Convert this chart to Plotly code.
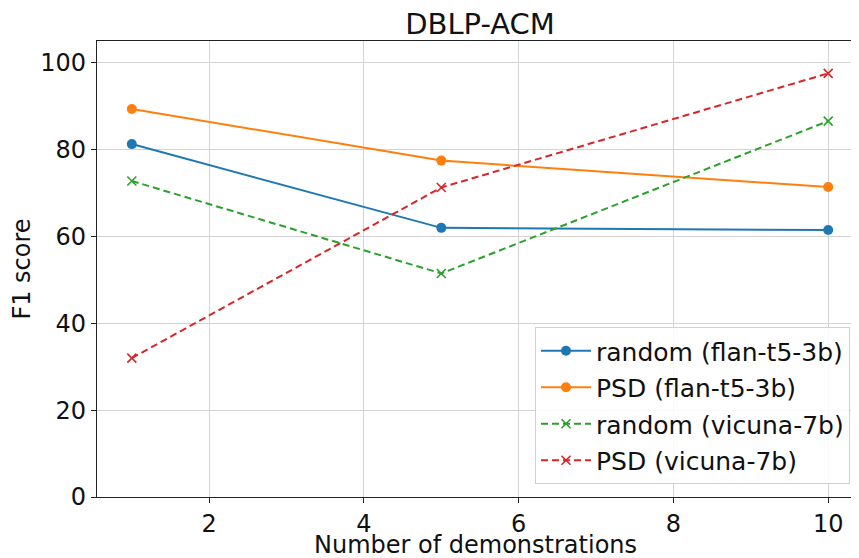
import plotly.graph_objects as go

x_vals = [1, 5, 10]
random_flan = [81.3, 62.0, 61.5]
psd_flan = [89.4, 77.5, 71.4]
random_vicuna = [72.8, 51.5, 86.6]
psd_vicuna = [32.0, 71.3, 97.6]

names = ["random (flan-t5-3b)", "PSD (flan-t5-3b)", "random (vicuna-7b)", "PSD (vicuna-7b)"]
colors = ["#1f77b4", "#ff7f0e", "#2ca02c", "#d62728"]
x_title = "Number of demonstrations"

font_family = "DejaVu Sans"
fig = go.Figure()
series = [random_flan, psd_flan, random_vicuna, psd_vicuna]
for i, (ys, name, c) in enumerate(zip(series, names, colors)):
    dashed = i >= 2
    fig.add_trace(go.Scatter(
        x=x_vals, y=ys, name=name, mode="lines+markers",
        legendgroup=f"g{i}",
        line=dict(color=c, width=2, dash="7px,4px" if dashed else "solid"),
        marker=dict(color=c, size=10 if not dashed else 9,
                    symbol="x-thin" if dashed else "circle",
                    line=dict(color=c, width=1.6 if dashed else 0)),
    ))

axis_common = dict(
    showline=True, linecolor="#222", linewidth=1.2, mirror=True,
    showgrid=True, gridcolor="#d3d3d3", gridwidth=1,
    ticks="outside", ticklen=5, tickcolor="#222",
    tickfont=dict(size=24, color="#111", family=font_family),
    zeroline=False, automargin=False,
)

# the page body adds an 8px offset; margins compensate so the plot sits where the reference has it
fig.update_layout(
    width=859, height=558,
    margin=dict(l=89, r=4, t=33, b=69),
    paper_bgcolor="white", plot_bgcolor="white",
    font=dict(family=font_family, color="#111"),
    title=dict(text="DBLP-ACM", x=472 / 859, xanchor="center",
               y=1 - 16 / 558, yanchor="middle",
               font=dict(size=29, family=font_family, color="#111")),
    xaxis=dict(range=[0.55, 10.45], tickvals=[2, 4, 6, 8, 10], **axis_common),
    yaxis=dict(range=[0, 105.05], tickvals=[0, 20, 40, 60, 80, 100],
               title=dict(text="F1 score", standoff=10,
                          font=dict(size=24, family=font_family)),
               **axis_common),
    legend=dict(x=(850 - 97) / 766, xanchor="right",
                y=(497 - 484) / 456, yanchor="bottom",
                bgcolor="rgba(255,255,255,0.85)", bordercolor="#d0d0d0",
                borderwidth=1, tracegroupgap=1,
                font=dict(size=25, family=font_family, color="#111"),
                itemwidth=50),
    showlegend=True,
    annotations=[dict(text=x_title, xref="paper", yref="paper",
                      x=0.4935, y=-48 / 456, xanchor="center", yanchor="middle",
                      showarrow=False,
                      font=dict(size=24, family=font_family, color="#111"))],
)

fig.write_html("out.html")
